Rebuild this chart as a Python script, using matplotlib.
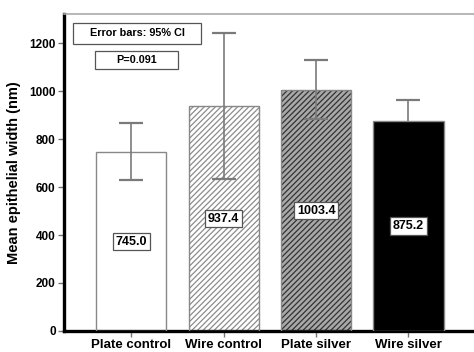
import numpy as np
import matplotlib.pyplot as plt
from matplotlib.patches import Rectangle

plt.rcParams['font.family'] = ['Liberation Sans', 'DejaVu Sans']
plt.rcParams['font.weight'] = 'bold'
plt.rcParams['hatch.linewidth'] = 0.9

groups = ['Plate control', 'Wire control', 'Plate silver', 'Wire silver']
means = [745.0, 937.4, 1003.4, 875.2]
ci_low = [628, 635, 885, 785]
ci_high = [868, 1245, 1132, 965]
yticks = [0, 200, 400, 600, 800, 1000, 1200]

faces = ['white', 'white', '#a8a8a8', 'black']
hatch_cols = ['#888888', '#8c8c8c', '#333333', 'black']
hatches = [None, '//////', '//////', None]
# the solid black bar hides the lower half of its error bar
err_z = [4, 4, 4, 1]

fig = plt.figure(figsize=(4.74, 3.52), dpi=100)
ax = fig.add_axes([0.135, 0.06, 0.865, 0.9])

x = np.arange(len(groups))
for i in range(len(groups)):
    ax.bar(x[i], means[i], width=0.76, color=faces[i], edgecolor=hatch_cols[i],
           hatch=hatches[i], linewidth=0, zorder=2)
    # grey outline
    ax.bar(x[i], means[i], width=0.76, fill=False, edgecolor='#888888', linewidth=1.0, zorder=3)
    ax.errorbar(x[i], means[i], yerr=[[means[i] - ci_low[i]], [ci_high[i] - means[i]]],
                fmt='none', ecolor='#7a7a7a', elinewidth=1.2, capsize=8.5, capthick=1.6,
                zorder=err_z[i])

for i in range(len(groups)):
    ax.text(x[i], means[i] / 2, '%.1f' % means[i], ha='center', va='center', fontsize=9,
            fontweight='bold', zorder=5,
            bbox=dict(boxstyle='square,pad=0.22', fc='white', ec='#555555', lw=0.9))

# legend-like boxes
ax.add_patch(Rectangle((0.022, 0.906), 0.312, 0.066, transform=ax.transAxes,
                       fc='white', ec='#555555', lw=0.9, zorder=5))
ax.text(0.178, 0.939, 'Error bars: 95% CI', transform=ax.transAxes, ha='center', va='center',
        fontsize=7.8, fontweight='bold', zorder=6)
ax.add_patch(Rectangle((0.0756, 0.827), 0.202, 0.0565, transform=ax.transAxes,
                       fc='white', ec='#555555', lw=0.9, zorder=5))
ax.text(0.177, 0.855, 'P=0.091', transform=ax.transAxes, ha='center', va='center',
        fontsize=7.8, fontweight='bold', zorder=6)

ax.set_xlim(-0.73, 3.71)
ax.set_ylim(0, 1322)
ax.set_yticks(yticks)
ax.set_xticks(x)
ax.set_xticklabels(groups, fontsize=9.5, fontweight='bold')
ax.set_yticklabels([str(t) for t in yticks], fontsize=8.5, fontweight='bold')
ax.set_ylabel('Mean epithelial width (nm)', fontsize=10.5, fontweight='bold', labelpad=6)

ax.spines['left'].set_linewidth(2.4)
ax.spines['bottom'].set_linewidth(2.4)
ax.spines['top'].set_color('#aaaaaa')
ax.spines['top'].set_linewidth(1.2)
ax.spines['right'].set_visible(False)
ax.tick_params(axis='both', color='#777777', length=4, width=1, pad=2)
ax.tick_params(axis='x', pad=2)

fig.savefig('out.png', dpi=100)
